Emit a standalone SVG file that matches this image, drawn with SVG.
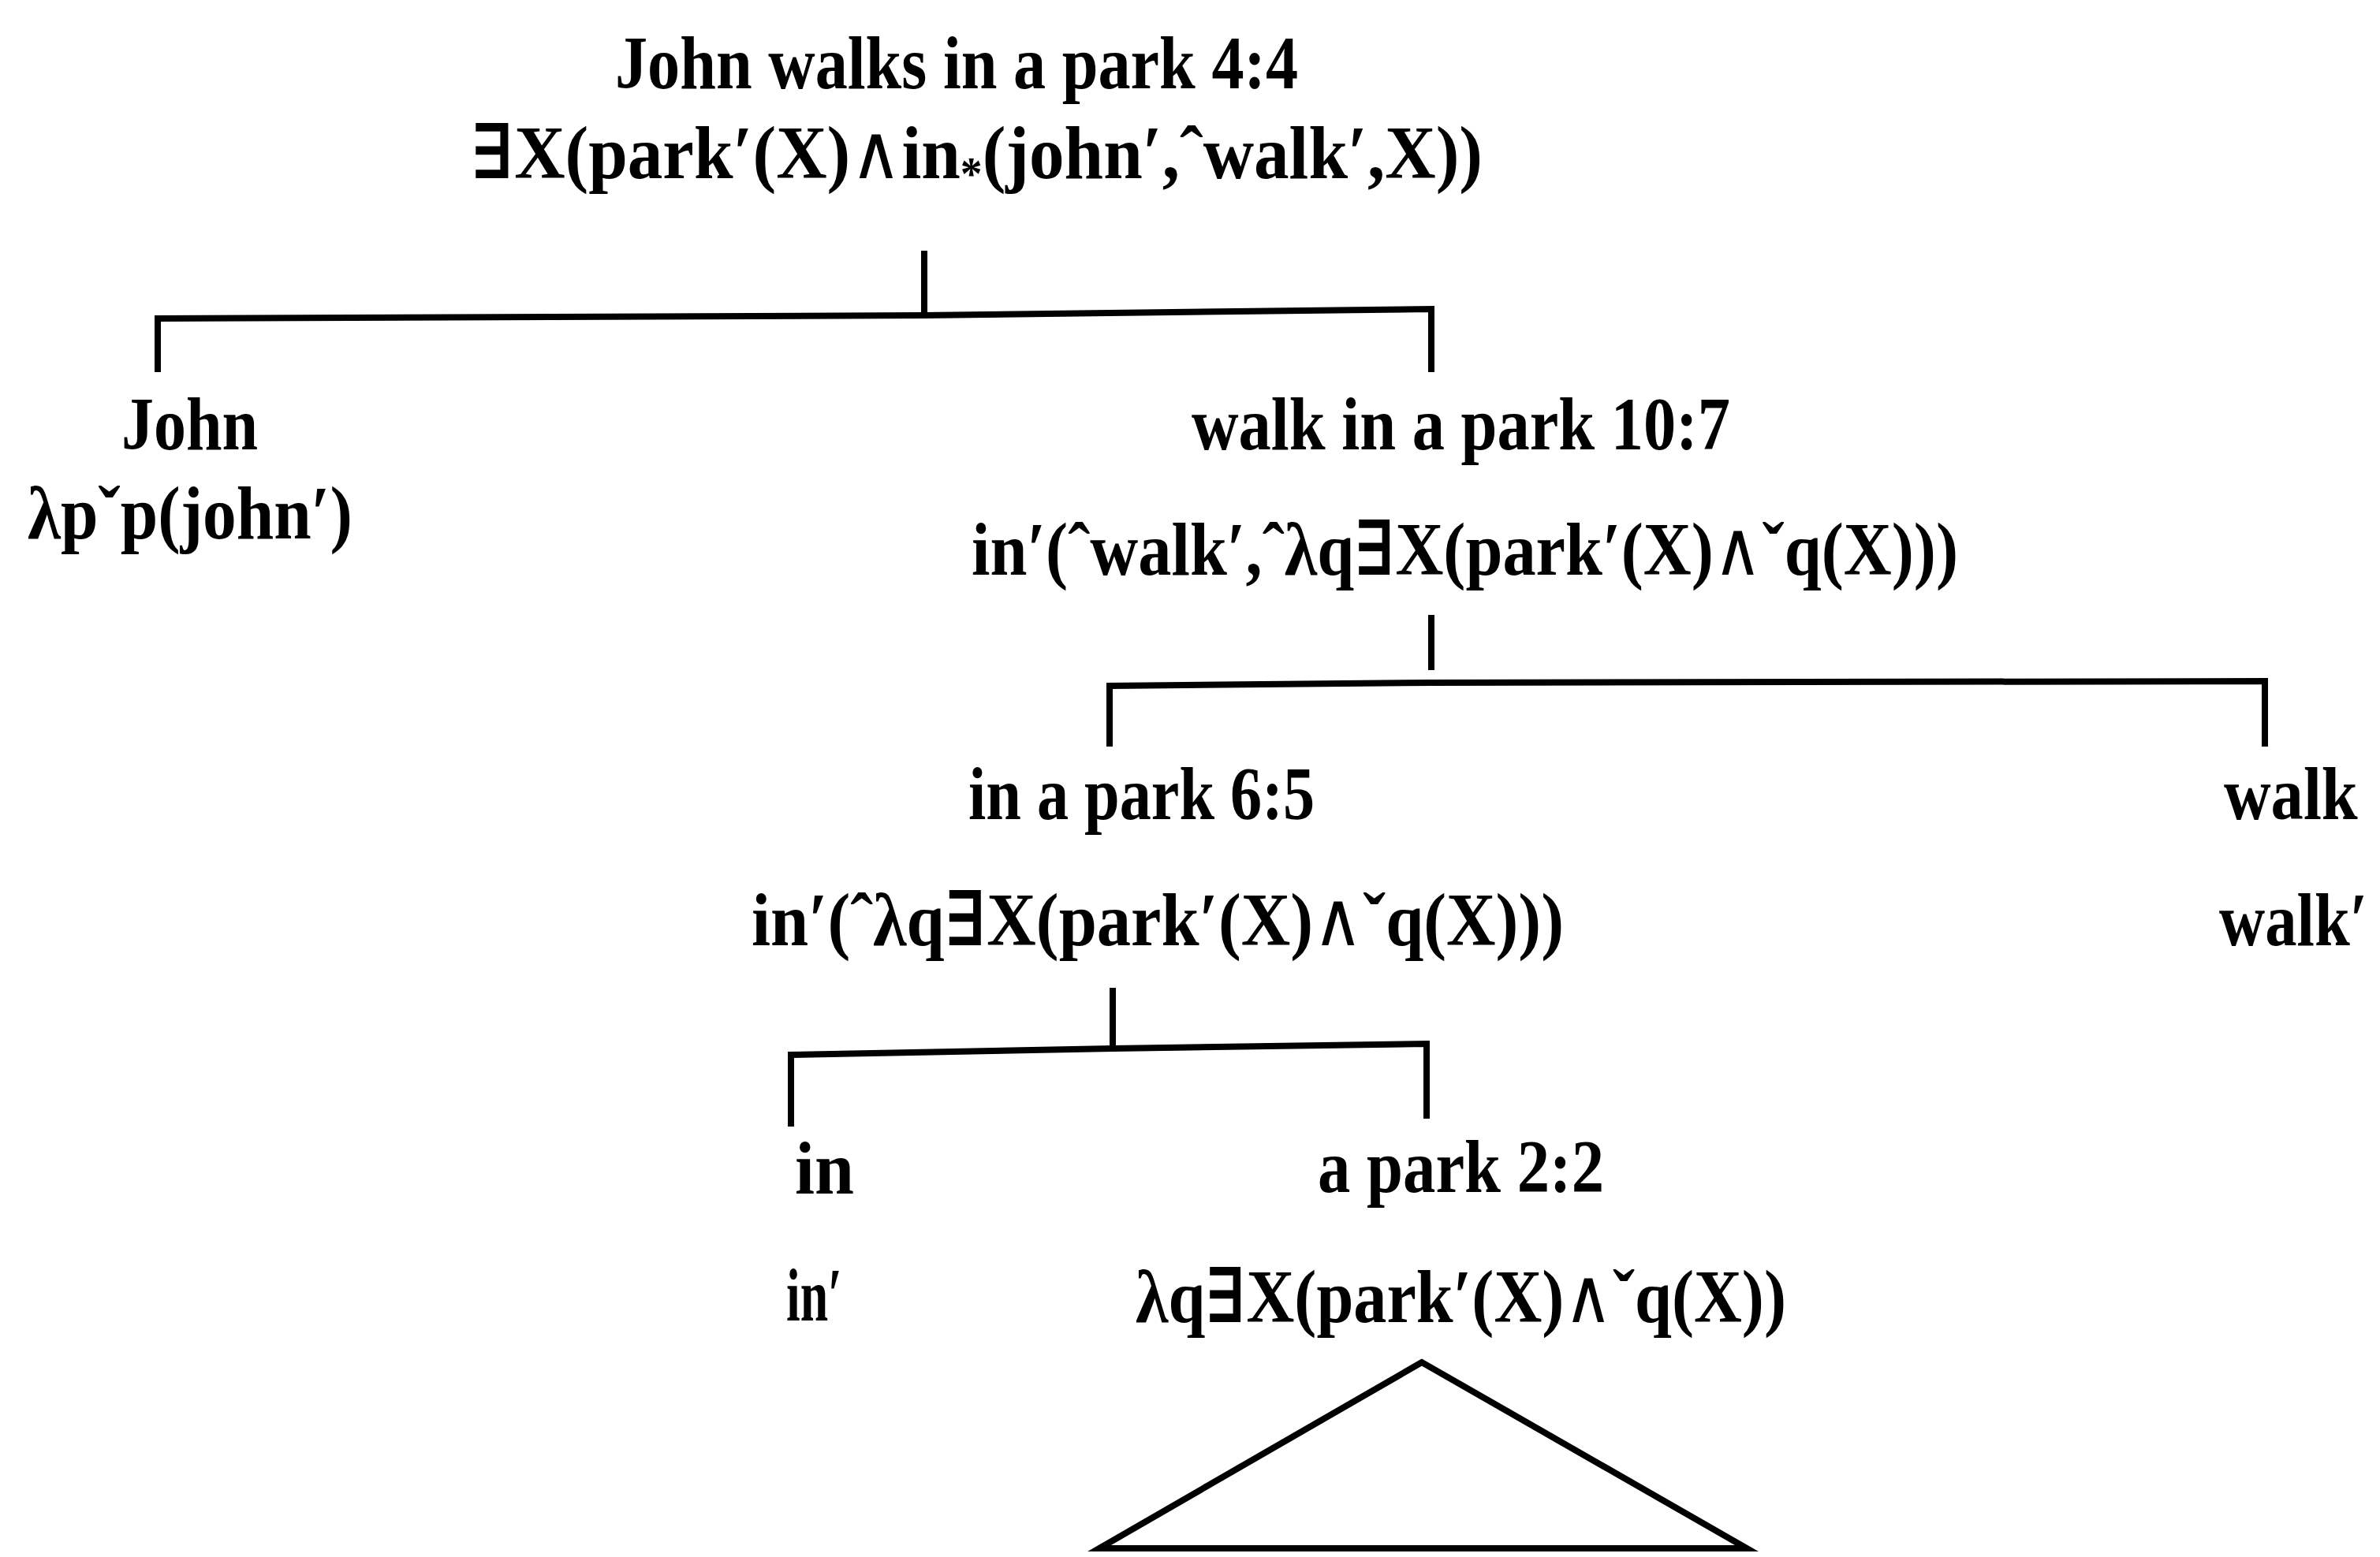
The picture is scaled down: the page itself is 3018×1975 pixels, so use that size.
<svg xmlns="http://www.w3.org/2000/svg" width="3018" height="1975" viewBox="0 0 3018 1975">
<style>
text{font-family:"Liberation Serif","DejaVu Serif",serif;font-weight:bold;font-size:96px;fill:#000}
.w{font-family:"DejaVu Sans",sans-serif;font-weight:normal}
.ln{fill:none;stroke:#000;stroke-width:8;stroke-linecap:square;stroke-linejoin:miter}
</style>
<rect width="3018" height="1975" fill="#fff"/>
<g id="connectors">
<path class="ln" d="M1172 322 V400"/>
<path class="ln" d="M200 468 V404 L1172 400 L1815 392 V468"/>
<path class="ln" d="M1815 784 V846"/>
<path class="ln" d="M1407 943 V870 L1815 866 L2872 864 V943"/>
<path class="ln" d="M1411 1257 V1330"/>
<path class="ln" d="M1003 1425 V1338 L1411 1330 L1809 1324 V1415"/>
</g>
<g id="n-root">
<text x="780" y="112" textLength="866" lengthAdjust="spacingAndGlyphs">John walks in a park 4:4</text>
<text x="597" y="226" textLength="1283" lengthAdjust="spacingAndGlyphs">∃X(park′(X)<tspan class="w">∧</tspan>in<tspan font-size="60" dy="14">*</tspan><tspan dy="-14">(john′,ˆwalk′,X))</tspan></text>
</g>
<g id="n-john">
<text x="154" y="570" textLength="173" lengthAdjust="spacingAndGlyphs">John</text>
<text x="35" y="683" textLength="412" lengthAdjust="spacingAndGlyphs">λpˇp(john′)</text>
</g>
<g id="n-walkinapark">
<text x="1511" y="570" textLength="683" lengthAdjust="spacingAndGlyphs">walk in a park 10:7</text>
<text x="1232" y="729" textLength="1251" lengthAdjust="spacingAndGlyphs">in′(ˆwalk′,ˆλq∃X(park′(X)<tspan class="w">∧</tspan>ˇq(X)))</text>
</g>
<g id="n-inapark">
<text x="1228" y="1039" textLength="439" lengthAdjust="spacingAndGlyphs">in a park 6:5</text>
<text x="953" y="1199" textLength="1030" lengthAdjust="spacingAndGlyphs">in′(ˆλq∃X(park′(X)<tspan class="w">∧</tspan>ˇq(X)))</text>
</g>
<g id="n-walk">
<text transform="translate(2820 1039) scale(0.86 1)">walk</text>
<text transform="translate(2814 1199) scale(0.84 1)">walk′</text>
</g>
<g id="n-in">
<text x="1008" y="1514" textLength="75" lengthAdjust="spacingAndGlyphs">in</text>
<text x="997" y="1675" textLength="71" lengthAdjust="spacingAndGlyphs">in′</text>
</g>
<g id="n-apark">
<text x="1671" y="1512" textLength="363" lengthAdjust="spacingAndGlyphs">a park 2:2</text>
<text x="1440" y="1677" textLength="825" lengthAdjust="spacingAndGlyphs">λq∃X(park′(X)<tspan class="w">∧</tspan>ˇq(X))</text>
<path class="ln" stroke-width="10" d="M1803 1728 L1394 1964 L2215 1964 Z"/>
</g>
</svg>
